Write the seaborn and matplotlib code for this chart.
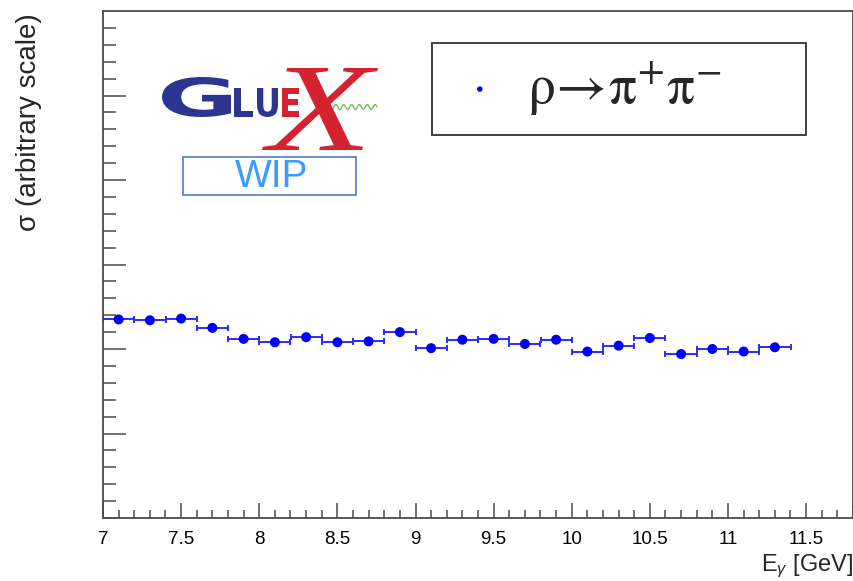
import numpy as np
import pandas as pd
import matplotlib
matplotlib.use("Agg")
import matplotlib.pyplot as plt
from matplotlib.patches import Rectangle, PathPatch
from matplotlib.textpath import TextPath
from matplotlib.font_manager import FontProperties
from matplotlib.transforms import Affine2D
import seaborn as sns

# Photon-energy bin centres [GeV] and half bin width
e_gamma = [7.1, 7.3, 7.5, 7.7, 7.9, 8.1, 8.3, 8.5, 8.7, 8.9, 9.1,
           9.3, 9.5, 9.7, 9.9, 10.1, 10.3, 10.5, 10.7, 10.9, 11.1, 11.3]
bin_half_width = [0.1] * len(e_gamma)
# Cross section, arbitrary scale
sigma = [2.35, 2.34, 2.36, 2.25, 2.12, 2.08, 2.14, 2.08, 2.09, 2.20, 2.01,
         2.11, 2.12, 2.06, 2.11, 1.97, 2.04, 2.13, 1.94, 2.00, 1.97, 2.02]

x_ticks = [7, 7.5, 8, 8.5, 9, 9.5, 10, 10.5, 11, 11.5]
x_tick_labels = ["7", "7.5", "8", "8.5", "9", "9.5", "10", "10.5", "11", "11.5"]

df = pd.DataFrame({"E": e_gamma, "sigma": sigma, "dE": bin_half_width})

sns.set_theme(style="white")
plt.rcParams["font.family"] = ["Liberation Sans", "DejaVu Sans"]
plt.rcParams["mathtext.fontset"] = "custom"
plt.rcParams["mathtext.rm"] = "Liberation Sans"
plt.rcParams["mathtext.it"] = "Liberation Sans:italic"

W, H = 854, 581
fig = plt.figure(figsize=(W / 100, H / 100), dpi=100)
ax = fig.add_axes([103 / W, 1 - 518 / H, 750 / W, 507 / H])

# Horizontal bin-width bars
ax.errorbar(df["E"], df["sigma"], xerr=df["dE"], fmt="none",
            ecolor="#2a2aff", elinewidth=1.4, capsize=2.4, capthick=1.4, zorder=2)
sns.scatterplot(data=df, x="E", y="sigma", ax=ax, color="#0000ff", s=52,
                edgecolor="none", linewidth=0,
                label=r"$\mathrm{\rho}\!\rightarrow\!\mathrm{\pi}^{+}\mathrm{\pi}^{-}$",
                zorder=3)

ax.set_xlim(7.0, 11.8)
ax.set_ylim(0, 6.0)
ax.set_xticks(x_ticks)
ax.set_xticklabels(x_tick_labels)
ax.set_xticks(np.arange(7.0, 11.81, 0.1), minor=True)
ax.set_yticks([1, 2, 3, 4, 5])
ax.set_yticks(np.arange(0, 6.0, 0.2), minor=True)
ax.set_yticklabels([])

frame_col = "#4a4a4a"
for sp in ax.spines.values():
    sp.set_color(frame_col)
    sp.set_linewidth(1.3)
ax.tick_params(axis="x", which="major", direction="in", length=11, width=1.1,
               color=frame_col, labelsize=13.5, pad=9, labelcolor="black",
               bottom=True, top=False)
ax.tick_params(axis="x", which="minor", direction="in", length=6, width=1.1,
               color=frame_col, bottom=True, top=False)
ax.tick_params(axis="y", which="major", direction="in", length=16.5, width=1.1,
               color=frame_col, left=True, right=False)
ax.tick_params(axis="y", which="minor", direction="in", length=9, width=1.1,
               color=frame_col, left=True, right=False)

ax.set_xlabel(r"E$_{\gamma}$ [GeV]", fontsize=17, ha="right")
ax.xaxis.set_label_coords(1.0, -0.068)
ax.set_ylabel("")
ax.text(-0.099, 0.996, "σ (arbitrary scale)", transform=ax.transAxes,
        rotation=90, ha="center", va="top", fontsize=20)

# Legend
leg_prop = FontProperties(family=["Liberation Serif", "DejaVu Serif"], size=40,
                          math_fontfamily="stix")
leg = ax.legend(loc="upper left", bbox_to_anchor=(0.4387, 0.9369, 0.4986, 0.0),
                mode="expand", borderaxespad=0, frameon=True,
                fancybox=False, borderpad=0.3, handlelength=1.12,
                handletextpad=0.29, markerscale=0.55, prop=leg_prop)
leg.get_frame().set_edgecolor("black")
leg.get_frame().set_linewidth(1.3)


def glyph(s, x0, y0, x1, y1, color, family, weight="normal", style="normal"):
    """Draw string s stretched into the pixel box (x0, y0)-(x1, y1), top-left origin."""
    tp = TextPath((0, 0), s, size=100,
                  prop=FontProperties(family=family, weight=weight, style=style))
    ext = tp.get_extents()
    sx = (x1 - x0) / ext.width
    sy = (y1 - y0) / ext.height
    tr = (Affine2D().translate(-ext.x0, -ext.y0).scale(sx, sy)
          .translate(x0, H - y1))
    fig.add_artist(PathPatch(tp, transform=tr, facecolor=color,
                             edgecolor="none", zorder=4))


# GlueX logo
navy = "#2c3590"
red = "#d42230"
glyph("G", 162, 77, 231, 117, navy, "DejaVu Sans", weight="bold")
glyph("L", 234, 88, 253, 117, navy, "DejaVu Sans", weight="bold")
glyph("U", 257, 88, 278, 117, navy, "DejaVu Sans", weight="bold")
glyph("E", 282, 88, 299, 117, red, "DejaVu Sans", weight="bold")
glyph("X", 262, 68, 378, 150, red, "Liberation Serif", style="italic")
sq_x = np.linspace(330, 377, 160)
sq_y = H - (107 + 2.5 * np.sin((sq_x - 330) / 47 * 6 * 2 * np.pi))
fig.add_artist(plt.Line2D(sq_x, sq_y, transform=None, color="#74b85a",
                          lw=1.0, zorder=3))

# Work-in-progress tag
ax.add_patch(Rectangle((0.1067, 0.637), 0.2306, 0.075, transform=ax.transAxes,
                       fill=False, edgecolor="#4f7fbf", linewidth=1.2))
ax.text(0.2245, 0.6726, "WIP", transform=ax.transAxes, ha="center", va="center",
        fontsize=28, color="#3b9bff")

fig.savefig("out.png", dpi=100)
